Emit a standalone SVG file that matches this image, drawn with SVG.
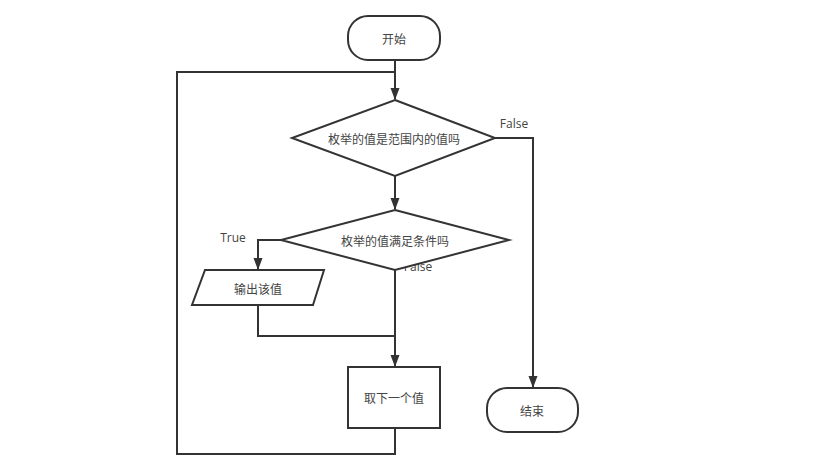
<svg xmlns="http://www.w3.org/2000/svg" width="829" height="462" viewBox="0 0 829 462">
<defs>
<marker id="arr" markerWidth="12" markerHeight="10" refX="11" refY="5" orient="auto" markerUnits="userSpaceOnUse">
<path d="M0,0.5 L12,5 L0,9.5 Z" fill="#333"/>
</marker>
<style>
.shape{fill:#fff;stroke:#333;stroke-width:2}
.line{fill:none;stroke:#333;stroke-width:2}
.t{font-family:"Noto Sans CJK SC","Open Sans",sans-serif;font-size:12px;fill:#444;text-anchor:middle;dominant-baseline:central}
.lbl{font-family:"Open Sans","Noto Sans CJK SC",sans-serif;font-size:12px;fill:#444;text-anchor:middle;dominant-baseline:central}
</style>
</defs>
<rect width="829" height="462" fill="#fff"/>
<g id="connectors">
<path class="line" d="M395,60 L395,99" marker-end="url(#arr)"/>
<path class="line" d="M395,428 L395,454 L177,454 L177,72 L395,72"/>
<path class="line" d="M495,138 L533,138 L533,387" marker-end="url(#arr)"/>
<path class="line" d="M395,176 L395,209" marker-end="url(#arr)"/>
<path class="line" d="M281,240 L258,240 L258,269" marker-end="url(#arr)"/>
<path class="line" d="M395,270 L395,366" marker-end="url(#arr)"/>
<path class="line" d="M258,305 L258,336 L395,336"/>
<text class="lbl" x="514" y="123">False</text>
<text class="lbl" x="233" y="237">True</text>
<text class="lbl" x="418" y="266">False</text>
</g>
<g id="start">
<rect class="shape" x="348" y="16" width="92" height="44" rx="20" ry="20"/>
<text class="t" x="394" y="38">开始</text>
</g>
<g id="cond1">
<polygon class="shape" points="395,100 495,138 395,176 292,138"/>
<text class="t" x="394" y="138">枚举的值是范围内的值吗</text>
</g>
<g id="cond2">
<polygon class="shape" points="395,210 509,240 395,270 281,240"/>
<text class="t" x="395" y="240">枚举的值满足条件吗</text>
</g>
<g id="output">
<polygon class="shape" points="205,270 324,270 313,305 192,305"/>
<text class="t" x="258" y="288">输出该值</text>
</g>
<g id="next">
<rect class="shape" x="348" y="367" width="92" height="61"/>
<text class="t" x="394" y="397">取下一个值</text>
</g>
<g id="end">
<rect class="shape" x="487" y="388" width="91" height="44" rx="20" ry="20"/>
<text class="t" x="532" y="410">结束</text>
</g>
</svg>
